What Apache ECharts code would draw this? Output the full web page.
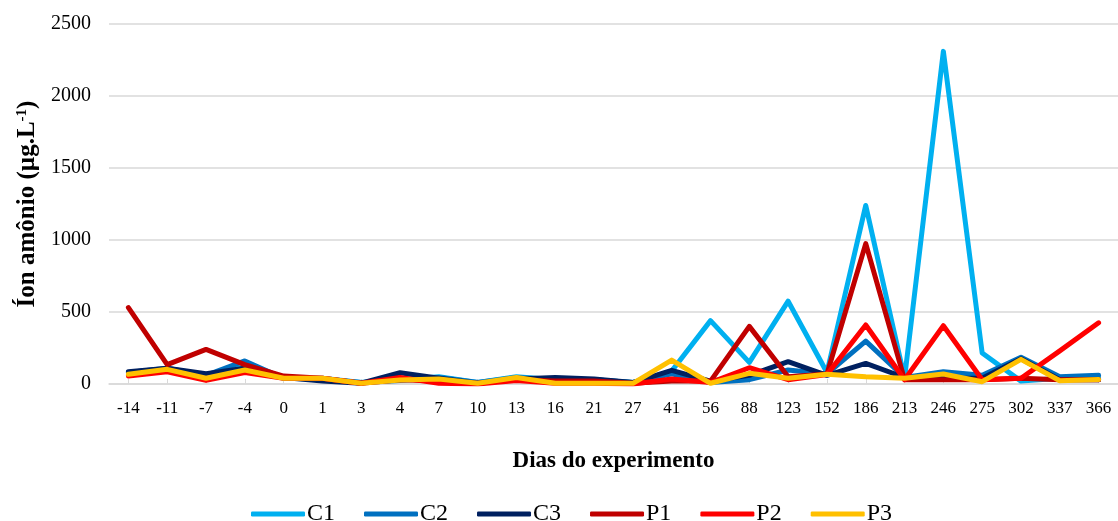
<!DOCTYPE html>
<html>
<head>
<meta charset="utf-8">
<script src="https://cdn.jsdelivr.net/npm/echarts@6/dist/echarts.min.js"></script>
<style>
  html, body { margin: 0; padding: 0; background: #fff; }
  #chart { width: 1118px; height: 521px; }
</style>
</head>
<body>
<div id="chart"></div>
<script>
// Sampling days of the experiment
const days = ['-14','-11','-7','-4','0','1','3','4','7','10','13','16','21','27','41','56','88','123','152','186','213','246','275','302','337','366'];

// Ammonium ion concentration (µg.L-1) per treatment
const C1 = [80, 105, 55, 120, 40, 40, 10, 30, 50, 10, 50, 30, 30, 10, 90, 440, 150, 575, 80, 1240, 40, 2310, 215, 20, 40, 40];
const C2 = [80, 110, 60, 160, 40, 35, 10, 25, 45, 10, 45, 30, 30, 10, 70, 10, 30, 97, 70, 298, 45, 85, 60, 185, 50, 60];
const C3 = [85, 110, 72, 110, 45, 20, 5, 78, 40, 5, 35, 45, 35, 10, 95, 20, 60, 155, 60, 143, 45, 40, 40, 175, 30, 30];
const P1 = [530, 135, 240, 135, 55, 40, 5, 30, 20, 5, 30, 20, 20, 5, 20, 20, 400, 50, 70, 975, 30, 30, 30, 40, 30, 30];
const P2 = [55, 85, 25, 80, 40, 40, 5, 45, 5, 0, 25, 5, 5, 0, 35, 10, 113, 30, 65, 410, 30, 405, 30, 40, 230, 425];
const P3 = [67, 102, 40, 97, 40, 40, 5, 28, 35, 5, 45, 5, 5, 5, 166, 5, 74, 40, 67, 50, 40, 69, 16, 171, 23, 32];

const yTicks = { min: 0, max: 2500, interval: 500 };

const seriesDefs = [
  { name: 'C1', data: C1, color: '#00B0F0' },
  { name: 'C2', data: C2, color: '#0070C0' },
  { name: 'C3', data: C3, color: '#002060' },
  { name: 'P1', data: P1, color: '#C00000' },
  { name: 'P2', data: P2, color: '#FF0000' },
  { name: 'P3', data: P3, color: '#FFC000' }
];

const serif = 'Liberation Serif, Times New Roman, serif';
const gridColor = '#D9D9D9';

const chart = echarts.init(document.getElementById('chart'), null, { renderer: 'canvas' });

chart.setOption({
  animation: false,
  backgroundColor: '#ffffff',
  textStyle: { fontFamily: serif, color: '#000' },
  grid: { left: 109, right: 0, top: 24, bottom: 137, containLabel: false },
  legend: {
    left: 246,
    top: 497,
    icon: 'roundRect',
    itemWidth: 54,
    itemHeight: 5,
    itemGap: 29,
    textStyle: { fontFamily: serif, fontSize: 24, color: '#000', padding: [0, 0, 0, -3] },
    data: seriesDefs.map(s => s.name)
  },
  xAxis: {
    type: 'category',
    data: days,
    boundaryGap: true,
    name: 'Dias do experimento',
    nameLocation: 'middle',
    nameGap: 66,
    nameTextStyle: { fontFamily: serif, fontSize: 23, fontWeight: 'bold', color: '#000' },
    axisLine: { lineStyle: { color: gridColor, width: 1.5 } },
    axisTick: { show: true, alignWithLabel: true, inside: true, length: 5, lineStyle: { color: gridColor } },
    axisLabel: { fontFamily: serif, fontSize: 17, color: '#000', margin: 16, interval: 0 }
  },
  yAxis: {
    type: 'value',
    min: yTicks.min,
    max: yTicks.max,
    interval: yTicks.interval,
    name: 'Íon amônio (µg.L{sup|-1})',
    nameLocation: 'middle',
    nameGap: 69,
    nameTextStyle: {
      fontFamily: serif, fontSize: 25, fontWeight: 'bold', color: '#000',
      rich: {
        sup: { fontFamily: serif, fontSize: 15, fontWeight: 'bold', color: '#000', verticalAlign: 'top', padding: [0, 0, 10, 0] }
      }
    },
    axisLine: { show: false },
    axisTick: { show: false },
    splitLine: { lineStyle: { color: gridColor, width: 1.5 } },
    axisLabel: { fontFamily: serif, fontSize: 20, color: '#000', margin: 18, formatter: v => String(v) }
  },
  series: seriesDefs.map(s => ({
    name: s.name,
    type: 'line',
    data: s.data,
    showSymbol: false,
    symbol: 'none',
    color: s.color,
    lineStyle: { width: 5, color: s.color, cap: 'round', join: 'round' },
    itemStyle: { color: s.color }
  }))
});
</script>
</body>
</html>
